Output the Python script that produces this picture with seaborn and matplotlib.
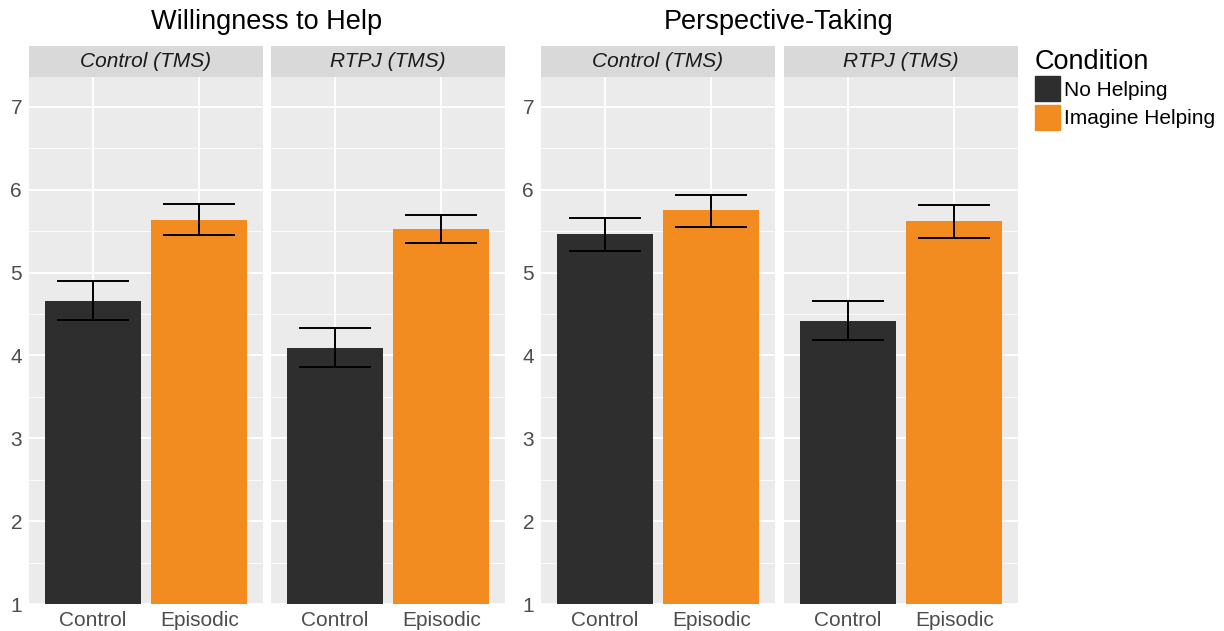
import numpy as np
import pandas as pd
import matplotlib
matplotlib.use("Agg")
import matplotlib.pyplot as plt
import seaborn as sns
from matplotlib.patches import Rectangle

# ── data ─────────────────────────────────────────────────────────────────────
measures = ["Willingness to Help", "Perspective-Taking"]
tms_sites = ["Control (TMS)", "RTPJ (TMS)"]
tasks = ["Control", "Episodic"]
conditions = ["No Helping", "Imagine Helping"]

# means, order: (measure, site) -> [Control, Episodic]
means = {
    ("Willingness to Help", "Control (TMS)"): [4.66, 5.64],
    ("Willingness to Help", "RTPJ (TMS)"): [4.09, 5.53],
    ("Perspective-Taking", "Control (TMS)"): [5.46, 5.75],
    ("Perspective-Taking", "RTPJ (TMS)"): [4.42, 5.62],
}
lower = {
    ("Willingness to Help", "Control (TMS)"): [4.43, 5.45],
    ("Willingness to Help", "RTPJ (TMS)"): [3.86, 5.36],
    ("Perspective-Taking", "Control (TMS)"): [5.26, 5.55],
    ("Perspective-Taking", "RTPJ (TMS)"): [4.19, 5.42],
}
upper = {
    ("Willingness to Help", "Control (TMS)"): [4.90, 5.83],
    ("Willingness to Help", "RTPJ (TMS)"): [4.33, 5.70],
    ("Perspective-Taking", "Control (TMS)"): [5.66, 5.94],
    ("Perspective-Taking", "RTPJ (TMS)"): [4.66, 5.81],
}

rows = []
for (m, s), vals in means.items():
    for i, t in enumerate(tasks):
        rows.append({"measure": m, "site": s, "task": t, "condition": conditions[i],
                     "mean": vals[i], "lo": lower[(m, s)][i], "hi": upper[(m, s)][i]})
df = pd.DataFrame(rows)

palette = {"No Helping": "#2d2e2d", "Imagine Helping": "#f28b20"}

# ── style ────────────────────────────────────────────────────────────────────
sns.set_theme(style="darkgrid")
plt.rcParams["font.family"] = ["Liberation Sans", "DejaVu Sans"]

W, H = 1224, 631
fig = plt.figure(figsize=(W / 100, H / 100), dpi=100)
fig.patch.set_facecolor("white")

panel_x = [29, 271, 541, 784]
panel_w = 234
top_px, bot_px, strip_px = 77, 604, 31


def fx(px):
    return px / W


def fy(py):
    return 1 - py / H


k = 0
for m in measures:
    for s in tms_sites:
        x0 = panel_x[k]
        ax = fig.add_axes([fx(x0), fy(bot_px), fx(panel_w), (bot_px - top_px) / H])
        sub = df[(df.measure == m) & (df.site == s)]
        sns.barplot(data=sub, x="task", y="mean", hue="condition", palette=palette,
                    dodge=False, width=0.9, legend=False, ax=ax, saturation=1, linewidth=0)
        ax.errorbar(np.arange(len(sub)), sub["mean"],
                    yerr=[sub["mean"] - sub["lo"], sub["hi"] - sub["mean"]],
                    fmt="none", ecolor="black", elinewidth=1.4, capsize=26, capthick=1.4)
        ax.set_facecolor("#ebebeb")
        ax.set_xlim(-0.6, 1.6)
        ax.set_ylim(1, 7.36)
        ax.set_yticks([1, 2, 3, 4, 5, 6, 7])
        ax.set_yticks([1.5, 2.5, 3.5, 4.5, 5.5, 6.5], minor=True)
        ax.grid(True, which="major", color="white", linewidth=1.3)
        ax.grid(True, which="minor", axis="y", color="white", linewidth=0.6)
        ax.set_axisbelow(True)
        for sp in ax.spines.values():
            sp.set_visible(False)
        ax.set_xlabel("")
        ax.set_ylabel("")
        ax.tick_params(axis="both", which="major", length=3, width=0.8, color="#333333",
                       labelsize=15, labelcolor="#4d4d4d", pad=2)
        ax.tick_params(axis="y", which="minor", length=0)
        if k % 2 == 1:
            ax.tick_params(axis="y", labelleft=False, length=0)

        # facet strip
        sax = fig.add_axes([fx(x0), fy(top_px), fx(panel_w), strip_px / H])
        sax.add_patch(Rectangle((0, 0), 1, 1, color="#d9d9d9", transform=sax.transAxes))
        sax.text(0.5, 0.5, s, ha="center", va="center", fontsize=15, style="italic",
                 color="#1a1a1a", transform=sax.transAxes)
        sax.set_axis_off()
        k += 1

# group titles
fig.text(fx((29 + 505) / 2), fy(22), measures[0], ha="center", va="center", fontsize=19.5, color="black")
fig.text(fx((541 + 1017) / 2), fy(22), measures[1], ha="center", va="center", fontsize=19.5, color="black")

# legend
fig.text(fx(1035), fy(62), "Condition", ha="left", va="center", fontsize=19.5, color="black")
for i, c in enumerate(conditions):
    y = 76 + i * 29
    fig.patches.append(Rectangle((fx(1035), fy(y + 25)), fx(25), 25 / H, color=palette[c],
                                 transform=fig.transFigure, figure=fig))
    fig.text(fx(1064), fy(y + 14), c, ha="left", va="center", fontsize=15, color="black")

fig.savefig("out.png", dpi=100)
